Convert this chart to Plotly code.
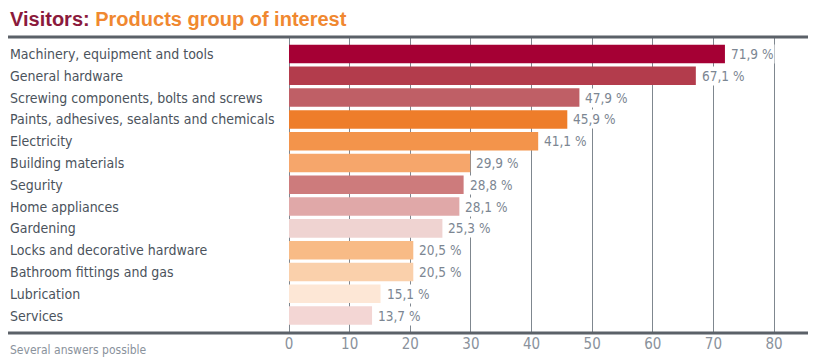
import plotly.graph_objects as go

categories = [
    "Machinery, equipment and tools",
    "General hardware",
    "Screwing components, bolts and screws",
    "Paints, adhesives, sealants and chemicals",
    "Electricity",
    "Building materials",
    "Segurity",
    "Home appliances",
    "Gardening",
    "Locks and decorative hardware",
    "Bathroom fittings and gas",
    "Lubrication",
    "Services",
]
values = [71.9, 67.1, 47.9, 45.9, 41.1, 29.9, 28.8, 28.1, 25.3, 20.5, 20.5, 15.1, 13.7]
colors = [
    "#a50034", "#b33c4c", "#bf5f66", "#ee7d2a", "#f3944b", "#f6a66b", "#cd7b7c",
    "#e0a8a8", "#efd3d1", "#f8bb86", "#fad0ab", "#fde7d6", "#f3d6d4",
]
x_ticks = [0, 10, 20, 30, 40, 50, 60, 70, 80]

LABEL_FONT = "DejaVu Sans Condensed, Liberation Sans, Arial, sans-serif"
LEFT_X = -0.5414  # paper coordinate of left text edge

fig = go.Figure()
fig.add_trace(go.Bar(
    x=values, y=categories, orientation="h",
    marker=dict(color=colors, line=dict(width=0)),
    width=0.85, hoverinfo="skip",
))

annotations = []
for cat, v in zip(categories, values):
    annotations.append(dict(
        x=v, y=cat, xref="x", yref="y", xanchor="left", yanchor="middle",
        xshift=4, showarrow=False,
        text=f"{v:.1f}".replace(".", ",") + " %",
        font=dict(family=LABEL_FONT, size=13.5, color="#7c8692"),
        bgcolor="white", borderpad=1,
    ))
    annotations.append(dict(
        x=LEFT_X, y=cat, xref="paper", yref="y", xanchor="left", yanchor="middle",
        showarrow=False, text=cat,
        font=dict(family=LABEL_FONT, size=14.0, color="#4b535c"),
    ))

annotations.append(dict(
    x=LEFT_X, y=1.0608, xref="paper", yref="paper", xanchor="left", yanchor="middle",
    showarrow=False,
    text="<b><span style='color:#8b1a3c'>Visitors:</span> Products group of interest</b>",
    font=dict(family="Liberation Sans, Arial, sans-serif", size=20, color="#f08830"),
))
annotations.append(dict(
    x=LEFT_X, y=-0.0574, xref="paper", yref="paper", xanchor="left", yanchor="middle",
    showarrow=False, text="Several answers possible",
    font=dict(family=LABEL_FONT, size=12, color="#8a929c"),
))

shapes = [
    dict(type="line", xref="paper", yref="paper", x0=LEFT_X, x1=1, y0=1, y1=1,
         line=dict(color="#5b6168", width=3)),
    dict(type="line", xref="paper", yref="paper", x0=LEFT_X, x1=1, y0=0, y1=0,
         line=dict(color="#5b6168", width=3)),
]

fig.update_layout(
    width=814, height=364, autosize=False,
    margin=dict(l=289, r=6, t=37, b=31),
    paper_bgcolor="white", plot_bgcolor="white",
    showlegend=False,
    annotations=annotations, shapes=shapes,
    xaxis=dict(
        range=[0, 85.6], tickmode="array", tickvals=x_ticks,
        ticktext=[str(t) for t in x_ticks],
        showgrid=True, gridcolor="#7f878f", gridwidth=1,
        zeroline=True, zerolinecolor="#7f878f", zerolinewidth=1,
        showline=False, ticks="",
        tickfont=dict(family=LABEL_FONT, size=15, color="#8a929c"),
        fixedrange=True,
    ),
    yaxis=dict(
        categoryorder="array", categoryarray=categories,
        range=[12.8, -0.78], showticklabels=False, showgrid=False,
        zeroline=False, showline=False, ticks="", fixedrange=True,
    ),
)

fig.write_html(
    "out.html",
    config={"displayModeBar": False},
    post_script="document.body.style.margin='0';document.body.style.overflow='hidden';",
)
